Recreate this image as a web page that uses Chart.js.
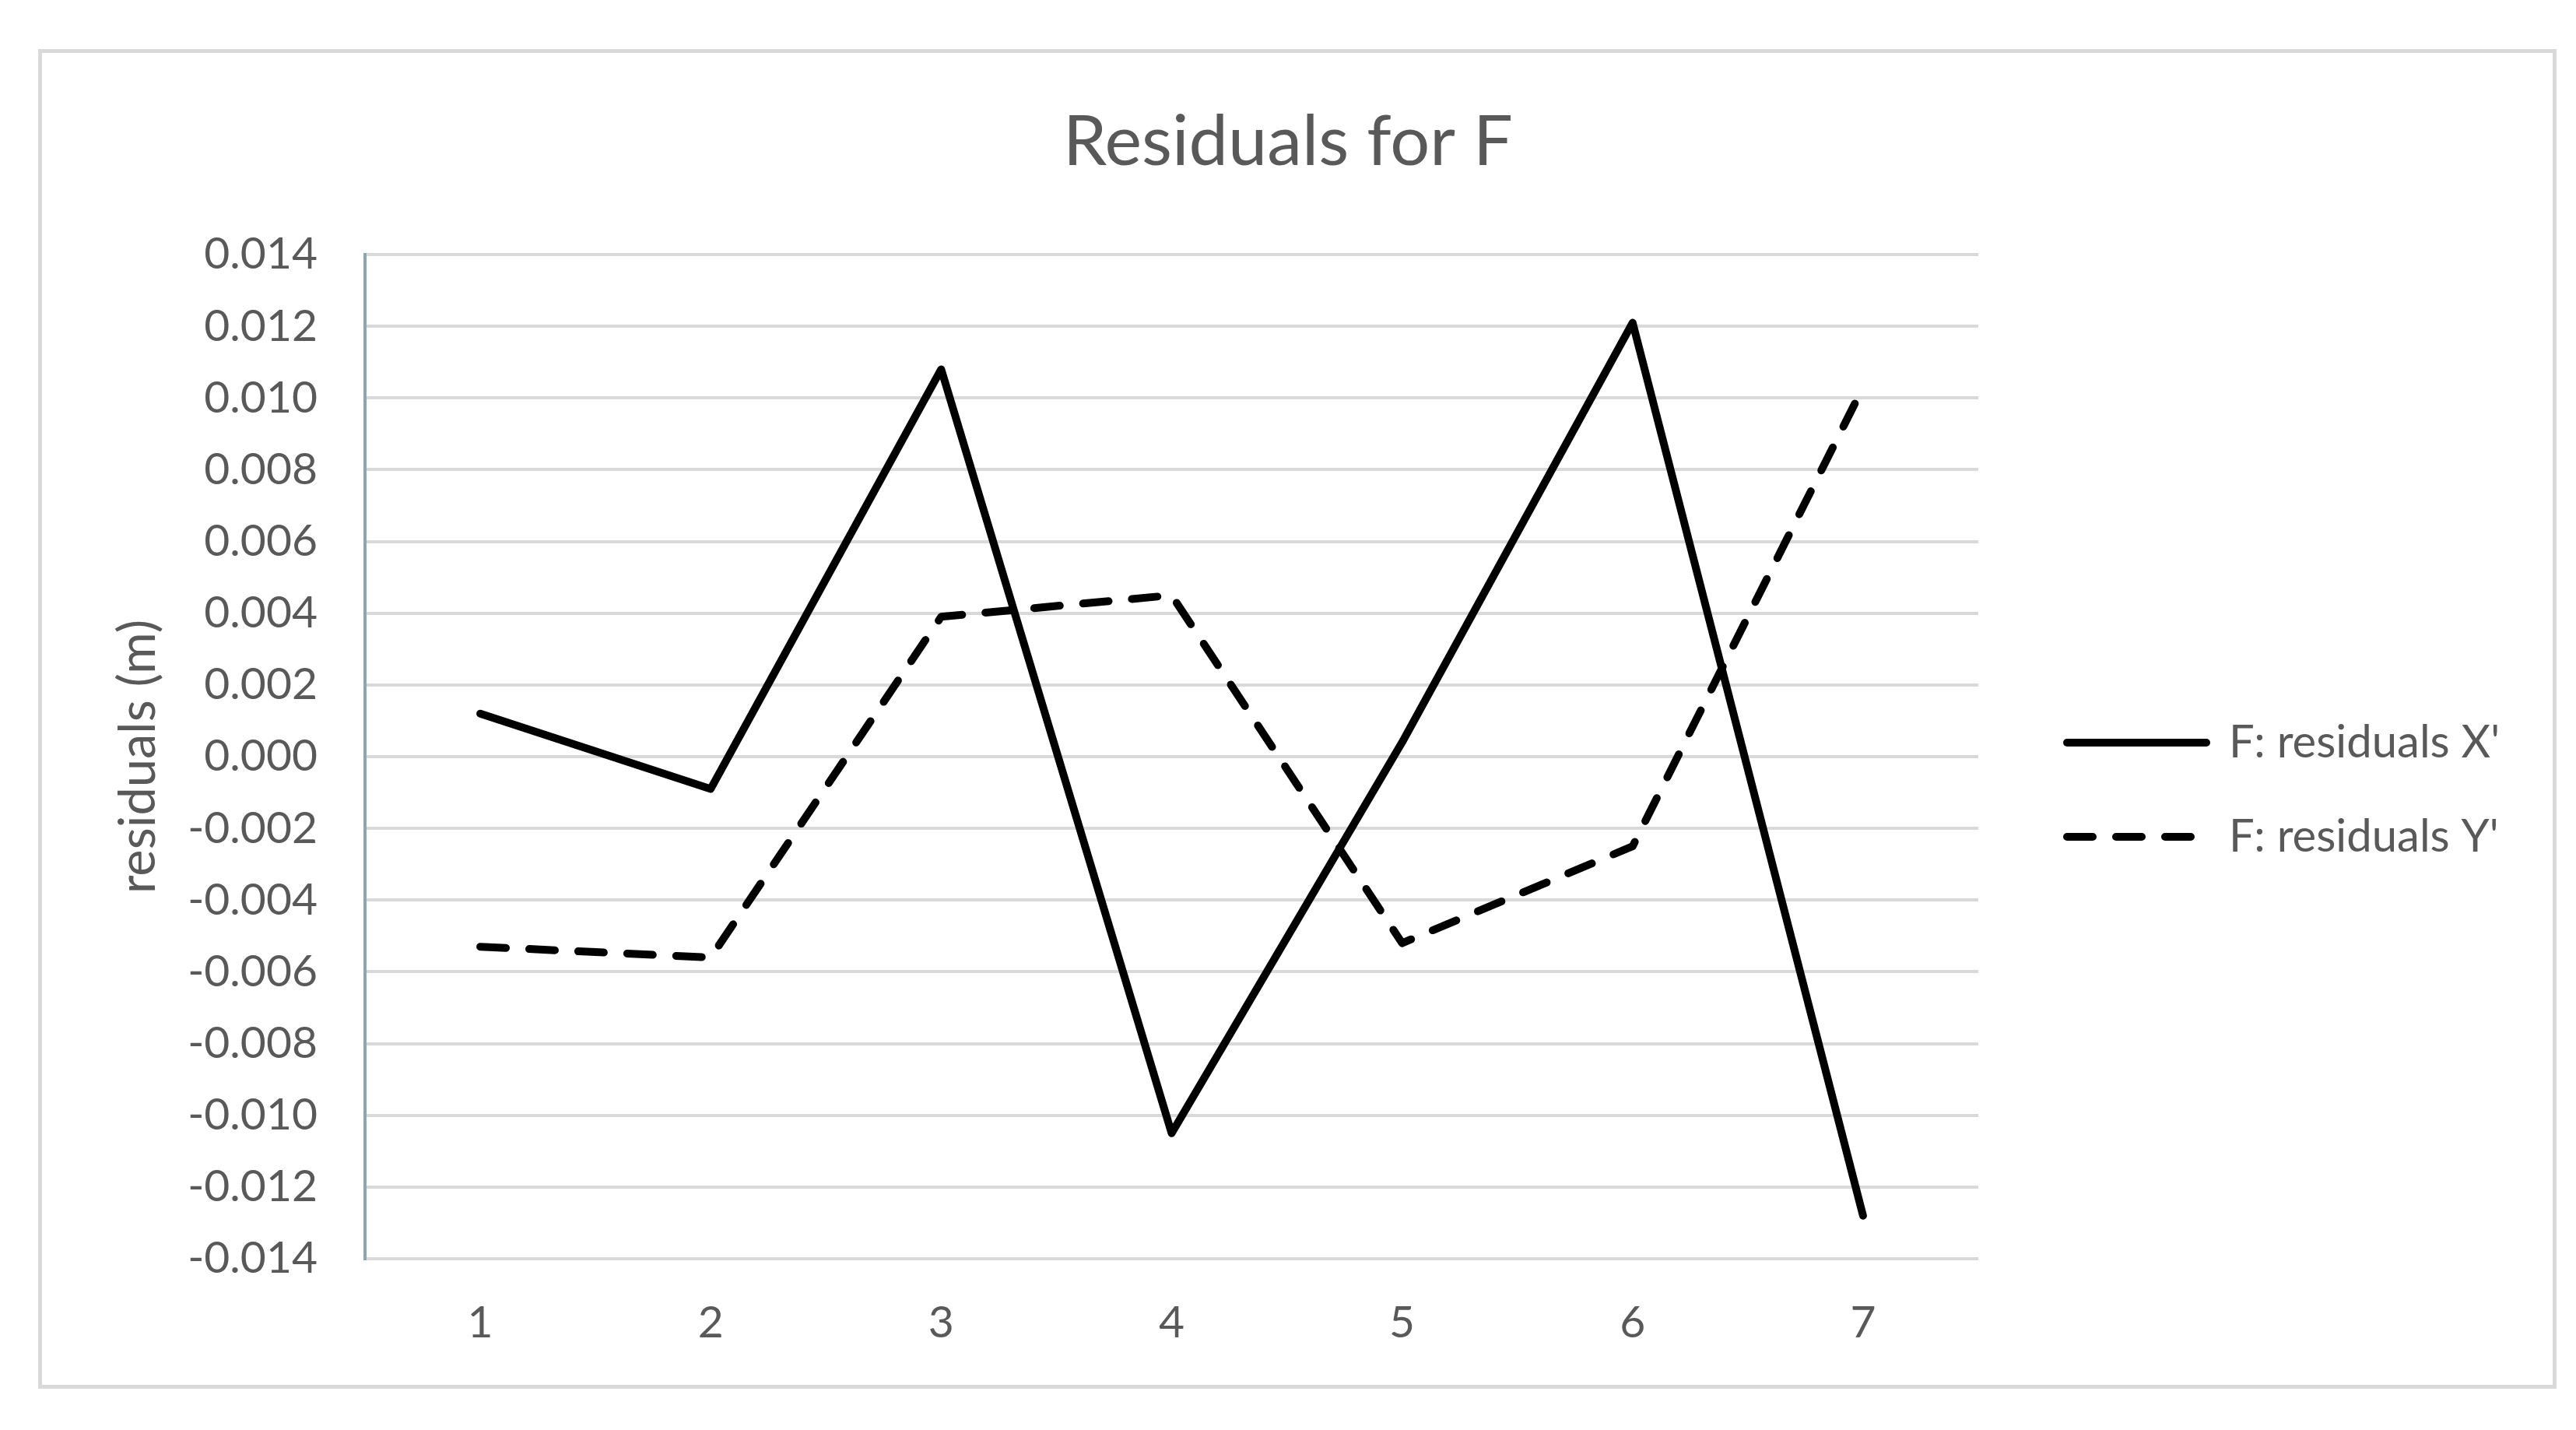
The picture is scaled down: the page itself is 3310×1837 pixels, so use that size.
<!DOCTYPE html>
<html>
<head>
<meta charset="utf-8">
<title>Residuals for F</title>
<script src="https://cdn.jsdelivr.net/npm/chart.js@4/dist/chart.umd.min.js"></script>
<style>
  html, body { margin: 0; padding: 0; background: #fff; }
  canvas { display: block; }
</style>
</head>
<body>
<canvas id="chart" width="3310" height="1837"></canvas>
<script>
// ── Data ──────────────────────────────────────────────────────
const CATEGORIES   = ['1', '2', '3', '4', '5', '6', '7'];
const RESIDUALS_X  = [0.0012, -0.0009, 0.0108, -0.0105, 0.0004, 0.0121, -0.0128];
const RESIDUALS_Y  = [-0.0053, -0.0056, 0.0039, 0.0045, -0.0052, -0.0025, 0.0103];
const SERIES_NAMES = ["F: residuals X'", "F: residuals Y'"];
const Y_MIN = -0.014, Y_MAX = 0.014, Y_STEP = 0.002;

const FONT = 'Lato, "Open Sans", sans-serif';
const TEXT = '#595959';
const GRID = '#d9d9d9';
const PLOT_RIGHT = 2542;   // right edge of the plot area
const LEGEND_GAP = 51;     // plot area -> legend box

// ── Excel-like outer frame ────────────────────────────────────
const framePlugin = {
    id: 'frame',
    beforeDraw(chart) {
        const ctx = chart.ctx;
        ctx.save();
        ctx.fillStyle = '#fff';
        ctx.fillRect(0, 0, chart.width, chart.height);
        ctx.strokeStyle = GRID;
        ctx.lineWidth = 5;
        ctx.strokeRect(51.5, 65.5, 3231, 1716);
        ctx.restore();
    }
};

// hidden spacer axes, only used to place the legend box
const spacer = (widthFn, weight) => ({
    position: 'right', display: false, weight,
    afterFit(s) { s.width = widthFn(s.chart); },
});

const lineStyle = { borderColor: '#000', backgroundColor: '#000', borderWidth: 10,
                    borderCapStyle: 'round', borderJoinStyle: 'round', pointRadius: 0, tension: 0 };

new Chart(document.getElementById('chart'), {
    type: 'line',
    data: {
        labels: CATEGORIES,
        datasets: [
            { ...lineStyle, label: SERIES_NAMES[0], data: RESIDUALS_X },
            { ...lineStyle, label: SERIES_NAMES[1], data: RESIDUALS_Y, borderDash: [33, 30] },
        ],
    },
    options: {
        responsive: false, animation: false, devicePixelRatio: 1,
        layout: { padding: 0 },
        plugins: {
            title: {
                display: true, text: 'Residuals for F', color: TEXT,
                font: { family: FONT, size: 90, weight: 'normal', lineHeight: 1.2 },
                padding: { top: 129, bottom: 90 },
            },
            legend: {
                position: 'right', fullSize: false,
                title: { display: true, text: '', font: { size: 1, lineHeight: 1 }, padding: { top: 84, bottom: 0 } },
                labels: {
                    usePointStyle: true, pointStyle: 'line', pointStyleWidth: 179,
                    padding: 63, color: TEXT, font: { family: FONT, size: 58 },
                    generateLabels(chart) {
                        const items = Chart.defaults.plugins.legend.labels.generateLabels(chart);
                        items.forEach(it => {
                            const ds = chart.data.datasets[it.datasetIndex];
                            it.lineDash = ds.borderDash || [];
                            it.lineCap = 'round';
                            it.lineWidth = ds.borderWidth;
                            it.strokeStyle = ds.borderColor;
                        });
                        return items;
                    },
                },
            },
            tooltip: { enabled: false },
        },
        scales: {
            x: {
                offset: true,
                grid: { display: false, drawTicks: false },
                border: { display: false },
                ticks: { color: TEXT, padding: 48, font: { family: FONT, size: 57 } },
                afterFit(s) { s.height = 220; },
            },
            y: {
                min: Y_MIN, max: Y_MAX,
                ticks: { stepSize: Y_STEP, padding: 61, color: TEXT, font: { family: FONT, size: 57 },
                         callback: v => v.toFixed(3) },
                grid: { color: GRID, lineWidth: 4, drawTicks: false },
                border: { display: true, color: '#8ea6b1', width: 4 },
                title: { display: true, text: 'residuals (m)', color: TEXT,
                         font: { family: FONT, size: 65 }, padding: { top: 139, bottom: 0 } },
                afterFit(s) { s.width = 469; },
            },
            padIn:  spacer(() => LEGEND_GAP, 0),
            padOut: spacer(c => Math.max(0, 3310 - PLOT_RIGHT - LEGEND_GAP - (c.legend ? c.legend.width : 0)), 2000),
        },
    },
    plugins: [framePlugin],
});
</script>
</body>
</html>
